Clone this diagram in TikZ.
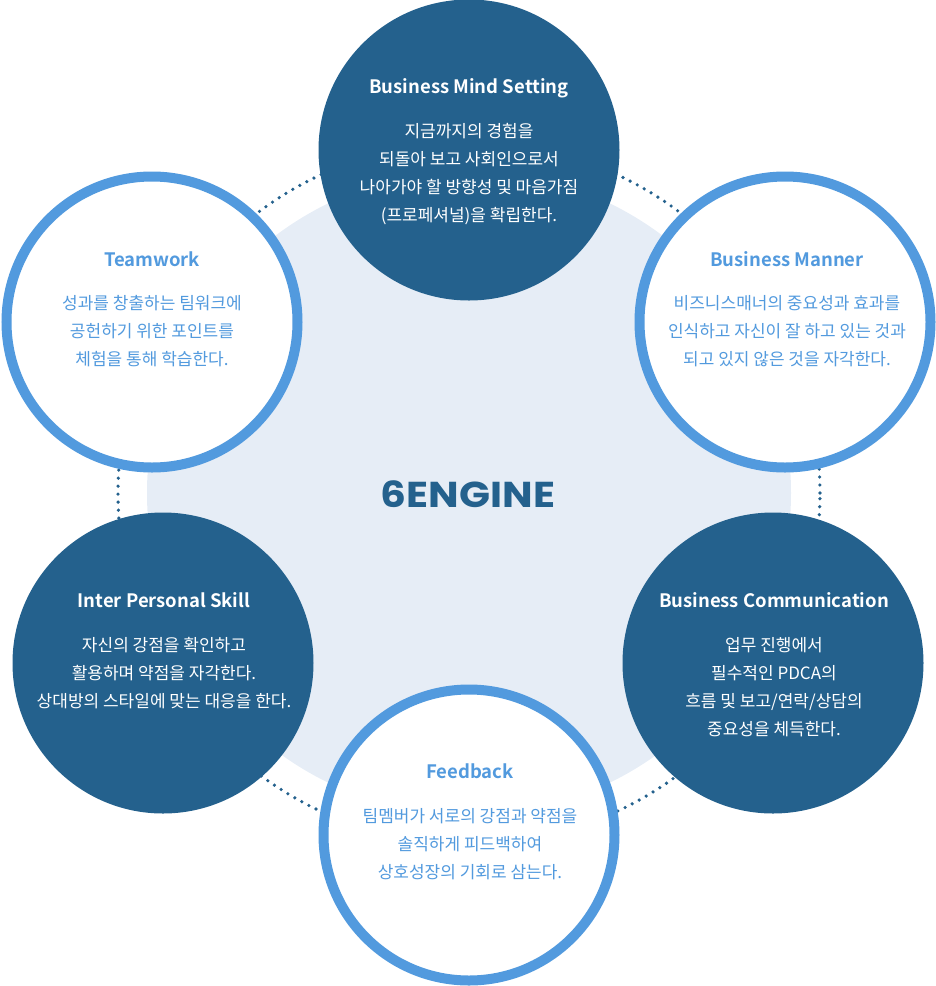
\documentclass[tikz,border=0pt]{standalone}
\usepackage{fontspec}
\setmainfont{Noto Sans CJK KR}[BoldFont={Noto Sans CJK KR Bold}]
\newfontfamily\enginefont{Poppins}[FakeStretch=1.13]
\definecolor{cdark}{RGB}{36,97,141}
\definecolor{cring}{RGB}{82,154,222}
\definecolor{cbg}{RGB}{230,237,246}
\begin{document}
\begin{tikzpicture}[x=1pt,y=1pt,
  darkc/.style={circle, fill=cdark, minimum size=301pt, inner sep=0pt},
  ringc/.style={circle, fill=white, draw=cring, line width=10pt, minimum size=291pt, inner sep=0pt},
  ttl/.style={anchor=base, inner sep=0pt, font=\bfseries\fontsize{18.5}{18.5}\selectfont},
  bdy/.style={anchor=base, inner sep=0pt, align=center, font=\fontsize{17}{28}\selectfont},
  onDark/.style={text=white},
  onRing/.style={text=cring}]
\useasboundingbox (0,0) rectangle (936,-986);
\coordinate (c) at (469,-493);
\fill[cbg] (c) circle[radius=322];
\draw[cdark, line width=3.6pt, line cap=round, dash pattern=on 0pt off 8pt] (c) circle[radius=351];

\node[darkc] (ms) at (469,-150) {};
\node[ringc] (tw) at (152,-322) {};
\node[ringc] (bm) at (785,-322) {};
\node[darkc] (ip) at (163,-663) {};
\node[darkc] (bc) at (773,-663) {};
\node[ringc] (fb) at (469,-835) {};

\node[ttl,onDark] (ms-t) at (469,-93) {Business Mind Setting};
\node[bdy,onDark] (ms-b) at (469,-221) {지금까지의 경험을\\되돌아 보고 사회인으로서\\나아가야 할 방향성 및 마음가짐\\(프로페셔널)을 확립한다.};

\node[ttl,onRing] (tw-t) at (152,-266) {Teamwork};
\node[bdy,onRing] (tw-b) at (152,-365) {성과를 창출하는 팀워크에\\공헌하기 위한 포인트를\\체험을 통해 학습한다.};

\node[ttl,onRing] (bm-t) at (787,-266) {Business Manner};
\node[bdy,onRing] (bm-b) at (787,-365) {비즈니스매너의 중요성과 효과를\\인식하고 자신이 잘 하고 있는 것과\\되고 있지 않은 것을 자각한다.};

\node[ttl,onDark] (ip-t) at (164,-607) {Inter Personal Skill};
\node[bdy,onDark] (ip-b) at (164,-707) {자신의 강점을 확인하고\\활용하며 약점을 자각한다.\\상대방의 스타일에 맞는 대응을 한다.};

\node[ttl,onDark] (bc-t) at (774,-607) {Business Communication};
\node[bdy,onDark] (bc-b) at (774,-735) {업무 진행에서\\필수적인 PDCA의\\흐름 및 보고/연락/상담의\\중요성을 체득한다.};

\node[ttl,onRing] (fb-t) at (470,-778) {Feedback};
\node[bdy,onRing] (fb-b) at (470,-878) {팀멤버가 서로의 강점과 약점을\\솔직하게 피드백하여\\상호성장의 기회로 삼는다.};

\node[text=cdark, font=\enginefont\bfseries\fontsize{36}{36}\selectfont, inner sep=0pt] (eng) at (468,-494) {6ENGINE};
\end{tikzpicture}
\end{document}
